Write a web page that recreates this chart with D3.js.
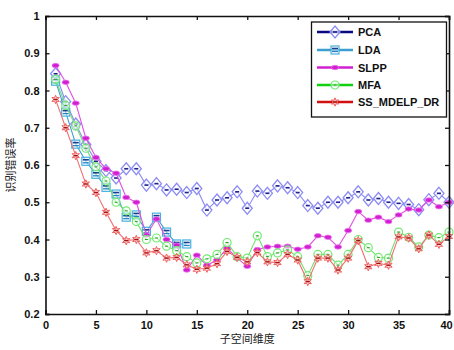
<!DOCTYPE html>
<html><head><meta charset="utf-8">
<script src="https://cdn.jsdelivr.net/npm/d3@7"></script>
<style>body{margin:0;background:#fff}svg{display:block}</style>
</head><body>
<svg id="c" width="454" height="350"></svg>
<script>
const dims = d3.range(1, 41);
const pca = [0.845,0.77,0.71,0.655,0.61,0.585,0.565,0.59,0.59,0.546,0.55,0.533,0.535,0.526,0.537,0.479,0.506,0.512,0.528,0.484,0.53,0.524,0.544,0.539,0.526,0.491,0.484,0.50,0.50,0.512,0.528,0.506,0.51,0.50,0.497,0.494,0.48,0.507,0.524,0.50];
const lda = [0.825,0.742,0.656,0.61,0.575,0.54,0.522,0.46,0.466,0.422,0.46,0.42,0.388,0.388];
const slpp = [0.867,0.822,0.766,0.672,0.62,0.59,0.578,0.513,0.50,0.412,0.455,0.40,0.385,0.318,0.358,0.331,0.345,0.377,0.35,0.328,0.373,0.38,0.382,0.382,0.374,0.38,0.41,0.406,0.38,0.424,0.475,0.452,0.46,0.448,0.466,0.482,0.479,0.506,0.488,0.50];
const mfa = [0.83,0.76,0.705,0.645,0.595,0.557,0.50,0.477,0.448,0.40,0.404,0.382,0.37,0.354,0.337,0.348,0.36,0.392,0.354,0.35,0.41,0.354,0.364,0.372,0.354,0.303,0.36,0.36,0.331,0.36,0.40,0.378,0.352,0.35,0.42,0.406,0.38,0.412,0.405,0.42];
const ssm = [0.776,0.70,0.625,0.549,0.526,0.473,0.424,0.397,0.40,0.364,0.37,0.35,0.352,0.332,0.32,0.323,0.335,0.368,0.352,0.34,0.365,0.34,0.338,0.36,0.345,0.287,0.35,0.35,0.318,0.35,0.397,0.327,0.336,0.331,0.407,0.404,0.375,0.412,0.387,0.408];
const xTicks = [0,5,10,15,20,25,30,35,40];
const yTicks = [0.2,0.3,0.4,0.5,0.6,0.7,0.8,0.9,1];
const names = ["PCA","LDA","SLPP","MFA","SS_MDELP_DR"];

const svg = d3.select("#c");
const L = 45.5, R = 449, T = 16, B = 314;
const x = d3.scaleLinear().domain([0,40]).range([L,R]);
const y = d3.scaleLinear().domain([0.2,1]).range([B,T]);

const series = [
  {name:names[0], vals:pca, line:"#8a8af2", legLine:"#0a0a80", mark:"diamond"},
  {name:names[1], vals:lda, line:"#3a9fd0", legLine:"#3a9fd0", mark:"square"},
  {name:names[2], vals:slpp, line:"#e050e0", legLine:"#d020d0", mark:"ellipse"},
  {name:names[3], vals:mfa, line:"#70e070", legLine:"#10d010", mark:"circle"},
  {name:names[4], vals:ssm, line:"#f07070", legLine:"#d01010", mark:"star"}
];

function drawMarker(g, type, cx, cy) {
  if (type === "diamond") {
    g.append("path").attr("d", `M${cx},${cy-6}L${cx+5},${cy}L${cx},${cy+6}L${cx-5},${cy}Z`)
      .attr("fill", "rgba(255,255,255,0.6)").attr("stroke", "#8c8cf5").attr("stroke-width", 1.3);
    g.append("line").attr("x1", cx-2).attr("x2", cx+2).attr("y1", cy).attr("y2", cy)
      .attr("stroke", "#20208a").attr("stroke-width", 1.6);
  } else if (type === "square") {
    g.append("rect").attr("x", cx-4).attr("y", cy-4).attr("width", 8).attr("height", 8)
      .attr("fill", "rgba(255,255,255,0.5)").attr("stroke", "#45b0e0").attr("stroke-width", 1.2);
    g.append("line").attr("x1", cx-3).attr("x2", cx+3).attr("y1", cy-1.5).attr("y2", cy-1.5)
      .attr("stroke", "#1a3f8a").attr("stroke-width", 1.6);
    g.append("line").attr("x1", cx-3).attr("x2", cx+3).attr("y1", cy+1.5).attr("y2", cy+1.5)
      .attr("stroke", "#2a80c0").attr("stroke-width", 1.3);
  } else if (type === "ellipse") {
    g.append("ellipse").attr("cx", cx).attr("cy", cy).attr("rx", 3.5).attr("ry", 2.2)
      .attr("fill", "#d020d0").attr("stroke", "#f070f0").attr("stroke-width", 0.8);
  } else if (type === "circle") {
    g.append("circle").attr("cx", cx).attr("cy", cy).attr("r", 4)
      .attr("fill", "rgba(255,255,255,0.5)").attr("stroke", "#70ea70").attr("stroke-width", 1.2);
    g.append("line").attr("x1", cx-1.5).attr("x2", cx+1.5).attr("y1", cy).attr("y2", cy)
      .attr("stroke", "#20a020").attr("stroke-width", 1);
  } else if (type === "star") {
    const pts = d3.range(12).map(i => {
      const a = -Math.PI/2 + i*Math.PI/6, r = i%2 ? 2 : 4.2;
      return [cx + r*Math.cos(a), cy + r*Math.sin(a)];
    });
    g.append("path").attr("d", "M" + pts.join("L") + "Z")
      .attr("fill", "rgba(255,200,200,0.6)").attr("stroke", "#f06060").attr("stroke-width", 1);
    g.append("line").attr("x1", cx-2).attr("x2", cx+2).attr("y1", cy).attr("y2", cy)
      .attr("stroke", "#a01010").attr("stroke-width", 1.4);
  }
}

series.forEach(s => {
  const data = s.vals.map((v,i) => [dims[i], v]);
  svg.append("path").datum(data)
    .attr("fill","none").attr("stroke", s.line).attr("stroke-width", 1.1)
    .attr("d", d3.line().x(d => x(d[0])).y(d => y(d[1])));
  const g = svg.append("g");
  data.forEach(d => drawMarker(g, s.mark, x(d[0]), y(d[1])));
});

const axB = d3.axisBottom(x).tickValues(xTicks).tickSize(-4).tickPadding(7).tickFormat(d3.format("d"));
const axL = d3.axisLeft(y).tickValues(yTicks).tickSize(-4).tickPadding(6).tickFormat(d => d === 1 ? "1" : d3.format(".1f")(d));
const axT = d3.axisTop(x).tickValues(xTicks).tickSize(-4).tickFormat("");
const axR = d3.axisRight(y).tickValues(yTicks).tickSize(-4).tickFormat("");
function style(g){
  g.selectAll("path.domain").attr("stroke","#111").attr("stroke-width",1.6);
  g.selectAll(".tick line").attr("stroke","#111").attr("stroke-width",1.3);
  g.selectAll("text").attr("font-family","Liberation Sans, Arial, sans-serif").attr("font-weight","bold").attr("font-size","11px").attr("fill","#111");
}
const gx = svg.append("g").attr("transform",`translate(0,${B})`).call(axB).call(style);
gx.selectAll(".tick text").filter(d => d === 40).attr("dx", "-3");
svg.append("g").attr("transform",`translate(${L},0)`).call(axL).call(style);
svg.append("g").attr("transform",`translate(0,${T})`).call(axT).call(style);
svg.append("g").attr("transform",`translate(${R},0)`).call(axR).call(style);

svg.append("text").attr("x", (L+R)/2).attr("y", 343).attr("text-anchor","middle")
  .attr("font-family","Noto Sans CJK SC").attr("font-size","11px").attr("fill","#222").text("子空间维度");
svg.append("text").attr("transform",`translate(15,${(T+B)/2}) rotate(-90)`).attr("text-anchor","middle")
  .attr("font-family","Noto Sans CJK SC").attr("font-size","11px").attr("fill","#222").text("识别错误率");

const lg = svg.append("g");
lg.append("rect").attr("x",311.5).attr("y",22).attr("width",135).attr("height",95)
  .attr("fill","#fff").attr("stroke","#111").attr("stroke-width",1.3);
const legY = [32, 50, 67.5, 85, 102];
series.forEach((s,i) => {
  lg.append("line").attr("x1",317).attr("x2",353).attr("y1",legY[i]).attr("y2",legY[i])
    .attr("stroke", s.legLine).attr("stroke-width", 2.6);
  drawMarker(lg, s.mark, 335, legY[i]);
  lg.append("text").attr("x",358).attr("y",legY[i]+4).text(s.name)
    .attr("font-family","Liberation Sans, Arial, sans-serif").attr("font-weight","bold").attr("font-size","11px").attr("fill","#111");
});
</script>
</body></html>
